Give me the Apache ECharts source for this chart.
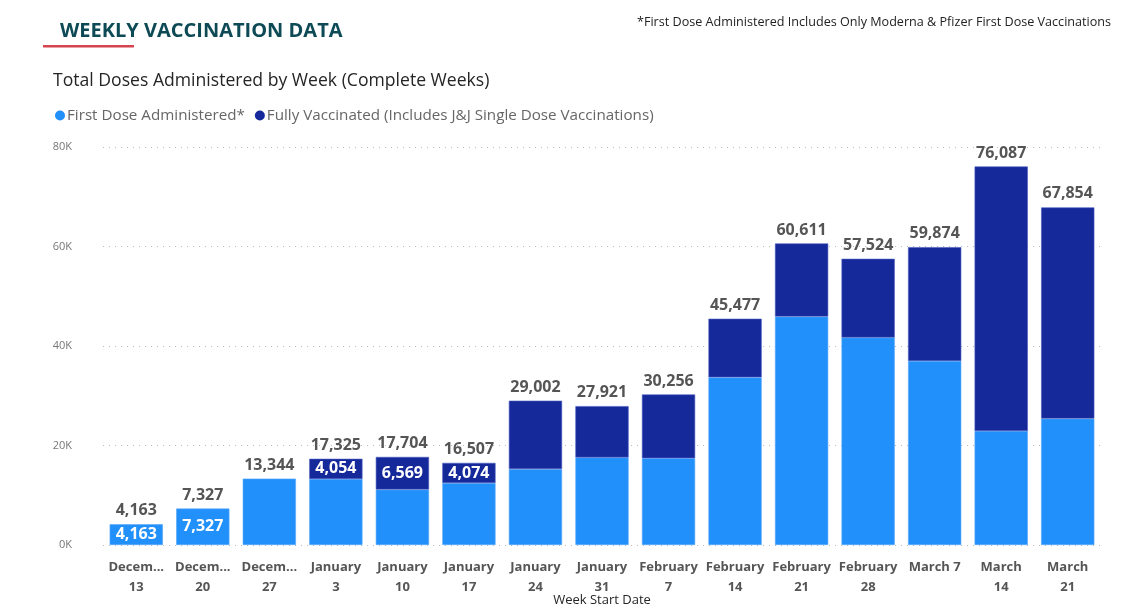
<!DOCTYPE html>
<html>
<head>
<meta charset="utf-8">
<title>Weekly Vaccination Data</title>
<script src="https://cdn.jsdelivr.net/npm/echarts@6/dist/echarts.min.js"></script>
<style>
  html, body { margin: 0; padding: 0; background: #fff; }
  #main { width: 1146px; height: 611px; }
</style>
</head>
<body>
<div id="main"></div>
<script>
// week start dates (categories) and their axis labels as drawn
var weeks = ['December 13', 'December 20', 'December 27', 'January 3', 'January 10',
  'January 17', 'January 24', 'January 31', 'February 7', 'February 14',
  'February 21', 'February 28', 'March 7', 'March 14', 'March 21'];
var weekLabels = ['Decem...\n13', 'Decem...\n20', 'Decem...\n27', 'January\n3', 'January\n10',
  'January\n17', 'January\n24', 'January\n31', 'February\n7', 'February\n14',
  'February\n21', 'February\n28', 'March 7', 'March\n14', 'March\n21'];

// weekly totals (labels above the bars)
var totalDoses = [4163, 7327, 13344, 17325, 17704, 16507, 29002, 27921, 30256,
  45477, 60611, 57524, 59874, 76087, 67854];
// first dose part (light blue), read off the picture where no label is shown
var firstDose = [4163, 7327, 13344, 13271, 11135, 12433, 15250, 17600, 17450,
  33700, 45900, 41700, 37000, 22900, 25400];
// fully vaccinated part (dark blue)
var fullyVaccinated = [0, 0, 0, 4054, 6569, 4074, 13752, 10321, 12806,
  11777, 14711, 15824, 22874, 53187, 42454];

// which segments carry an inside label in the original
var firstLabelled = [0, 1];
var fullyLabelled = [3, 4, 5];

var yTicks = [0, 20000, 40000, 60000, 80000];

var FONT = '"Open Sans", "Noto Sans", sans-serif';
var lightBlue = '#2290fb';
var darkBlue = '#16299b';

function fmt(v) { return v.toLocaleString('en-US'); }

function segData(arr, labelled) {
  return arr.map(function (v, i) {
    var d = { value: v === 0 ? '-' : v };   // no empty segment drawn for zero
    if (labelled.indexOf(i) >= 0) d.label = { show: true };
    return d;
  });
}

var insideLabel = {
  show: false,
  position: 'inside',
  color: '#fff',
  fontFamily: FONT,
  fontWeight: 'bold',
  fontSize: 16,
  formatter: function (p) { return fmt(p.value); }
};

var myChart = echarts.init(document.getElementById('main'));

var option = {
  animation: false,
  textStyle: { fontFamily: FONT },
  title: [
    {
      text: 'WEEKLY VACCINATION DATA',
      left: 60, top: 21, padding: 0,
      textStyle: { fontFamily: FONT, fontSize: 20, fontWeight: 'bold', color: '#0d4a55' }
    },
    {
      text: '*First Dose Administered Includes Only Moderna & Pfizer First Dose Vaccinations',
      right: 35, top: 16, padding: 0,
      textStyle: { fontFamily: FONT, fontSize: 12.6, fontWeight: 'normal', color: '#222' }
    },
    {
      text: 'Total Doses Administered by Week (Complete Weeks)',
      left: 53, top: 72, padding: 0,
      textStyle: { fontFamily: FONT, fontSize: 17.6, fontWeight: 'normal', color: '#252525' }
    }
  ],
  graphic: [
    {
      type: 'rect',
      shape: { x: 43, y: 45, width: 91, height: 2.5 },
      style: { fill: '#d4454f' }
    }
  ],
  legend: {
    left: 50, top: 103,
    icon: 'circle',
    itemWidth: 10, itemHeight: 10,
    itemGap: 10,
    itemStyle: { borderWidth: 0 },
    data: ['First Dose Administered*', 'Fully Vaccinated (Includes J&J Single Dose Vaccinations)'],
    textStyle: { fontFamily: FONT, fontSize: 15.2, color: '#666', padding: [0, 0, 0, -3] }
  },
  grid: { left: 103, right: 45, top: 147, bottom: 66, outerBoundsMode: 'none' },
  xAxis: {
    type: 'category',
    data: weeks,
    name: 'Week Start Date',
    nameLocation: 'middle',
    nameGap: 49,
    nameMoveOverlap: false,
    nameTextStyle: { fontFamily: FONT, fontSize: 13, color: '#252525' },
    axisLine: { show: false },
    axisTick: { show: false },
    axisLabel: {
      interval: 0,
      margin: 12,
      fontFamily: FONT,
      fontSize: 13,
      fontWeight: 'bold',
      lineHeight: 20,
      color: '#555',
      formatter: function (v, i) { return weekLabels[i]; }
    }
  },
  yAxis: {
    type: 'value',
    min: yTicks[0],
    max: yTicks[yTicks.length - 1],
    interval: yTicks[1] - yTicks[0],
    axisLine: { show: false },
    axisTick: { show: false },
    axisLabel: {
      fontFamily: FONT, fontSize: 11, color: '#777', margin: 31,
      formatter: function (v) { return (v / 1000) + 'K'; }
    },
    splitLine: { lineStyle: { type: [1, 5], color: '#bbb', width: 1 } }
  },
  series: [
    {
      name: 'First Dose Administered*',
      type: 'bar',
      stack: 'doses',
      barWidth: '80%',
      itemStyle: { color: lightBlue, borderColor: '#58a8fb', borderWidth: 0.6 },
      label: insideLabel,
      data: segData(firstDose, firstLabelled)
    },
    {
      name: 'Fully Vaccinated (Includes J&J Single Dose Vaccinations)',
      type: 'bar',
      stack: 'doses',
      barWidth: '80%',
      itemStyle: { color: darkBlue, borderColor: '#4a5cc0', borderWidth: 0.6 },
      label: insideLabel,
      data: segData(fullyVaccinated, fullyLabelled)
    },
    {
      name: 'Total',
      type: 'line',
      data: totalDoses,
      symbol: 'circle',
      symbolSize: 1,
      showSymbol: true,
      itemStyle: { color: 'rgba(0,0,0,0)' },
      lineStyle: { opacity: 0 },
      silent: true,
      z: 5,
      label: {
        show: true,
        position: 'top',
        distance: 5,
        color: '#555',
        fontFamily: FONT,
        fontWeight: 'bold',
        fontSize: 16,
        formatter: function (p) { return fmt(p.value); }
      }
    }
  ]
};

myChart.setOption(option);
</script>
</body>
</html>
